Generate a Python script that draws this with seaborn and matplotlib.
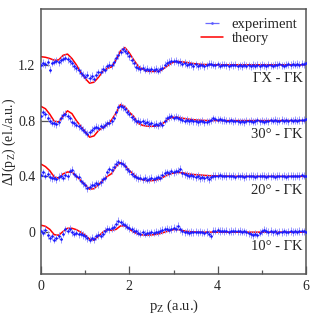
import numpy as np
import pandas as pd
import matplotlib
matplotlib.use("Agg")
import matplotlib.pyplot as plt
from matplotlib.lines import Line2D
from matplotlib.ticker import MultipleLocator
import seaborn as sns

# panel names (bottom to top) and vertical offsets
panels = ["10° - ΓK", "20° - ΓK", "30° - ΓK", "ΓX - ΓK"]
offsets = [0.0, 0.4, 0.8, 1.2]

# theory, step 0.1 a.u. from 0 to 6 (deviation from offset)
theory_10 = [0.050, 0.042, 0.020, -0.018, -0.022, 0.005, 0.028, 0.028, 0.018, 0.000,
             -0.020, -0.050, -0.058, -0.030, 0.000, 0.020, 0.012, 0.020, 0.045, 0.045,
             0.022, 0.000, -0.014, -0.020, -0.022, -0.020, -0.016, -0.010, 0.000, 0.010,
             0.018, 0.019, 0.012, 0.006, 0.003, 0.001, 0, 0, 0, 0,
             0, 0, 0, 0, 0, 0, 0, 0, 0, 0,
             0, 0, 0, 0, 0, 0, 0, 0, 0, 0,
             0]
theory_20 = [0.088, 0.070, 0.040, -0.005, -0.012, 0.018, 0.031, 0.030, 0.002, -0.030,
             -0.058, -0.092, -0.088, -0.060, -0.028, 0.000, 0.020, 0.070, 0.098, 0.080,
             0.042, 0.015, -0.015, -0.024, -0.030, -0.031, -0.027, -0.018, 0.000, 0.015,
             0.024, 0.028, 0.026, 0.020, 0.015, 0.012, 0.010, 0.007, 0.005, 0.004,
             0.003, 0.002, 0.002, 0.001, 0.001, 0, 0, 0, 0, 0,
             0, 0, 0, 0, 0, 0, 0, 0, 0, 0,
             0]
theory_30 = [0.102, 0.085, 0.045, -0.005, -0.010, 0.035, 0.070, 0.050, 0.000, -0.040,
             -0.078, -0.119, -0.110, -0.072, -0.050, -0.030, 0.005, 0.055, 0.115, 0.100,
             0.060, 0.030, -0.020, -0.034, -0.040, -0.041, -0.040, -0.034, -0.010, 0.015,
             0.024, 0.024, 0.017, 0.012, 0.008, 0.005, 0.003, 0.001, 0, 0,
             0, 0, 0, 0, 0, 0, 0, 0, 0, 0,
             0, 0, 0, 0, 0, 0, 0, 0, 0, 0,
             0]
theory_gx = [0.058, 0.054, 0.045, 0.033, 0.035, 0.068, 0.077, 0.045, 0.000, -0.055,
             -0.098, -0.132, -0.125, -0.090, -0.048, -0.025, -0.015, 0.035, 0.100, 0.124,
             0.085, 0.035, -0.010, -0.031, -0.046, -0.048, -0.047, -0.045, -0.022, 0.000,
             0.020, 0.024, 0.021, 0.017, 0.011, 0.007, 0.004, 0.002, 0.001, 0,
             0, 0, 0, 0, 0, 0, 0, 0, 0, 0,
             0, 0, 0, 0, 0, 0, 0, 0, 0, 0,
             0]

# experiment, step 0.05 a.u. from 0 to 6 (deviation from offset)
exp_10 = [0.010, -0.005, 0.015, -0.020, -0.045, -0.030, -0.055, -0.040, -0.025, -0.050,
          -0.010, 0.020, 0.010, 0.025, 0.000, -0.010, -0.005, -0.015, -0.010, -0.020,
          -0.030, -0.045, -0.055, -0.040, -0.050, -0.030, -0.020, -0.025, -0.010, 0.010,
          0.025, 0.020, 0.030, 0.035, 0.060, 0.080, 0.070, 0.060, 0.050, 0.040,
          0.030, 0.020, 0.010, 0.005, -0.005, -0.010, 0.000, -0.012, -0.005, -0.008,
          0.000, -0.005, 0.004, 0.000, 0.010, 0.015, 0.020, 0.025, 0.018, 0.022,
          0.030, 0.025, 0.045, 0.020, 0.005, 0.000, 0.004, -0.003, 0.002, 0.000,
          0.004, -0.002, 0.003, 0.000, -0.004, 0.002, -0.010, -0.025, 0.008, 0.010,
          0.012, 0.008, 0.010, 0.006, 0.010, 0.004, 0.008, 0.006, 0.010, 0.005,
          0.008, 0.004, 0.006, 0.000, -0.008, -0.015, -0.020, -0.012, -0.018, -0.005,
          0.005, 0.018, 0.010, 0.002, 0.008, 0.000, 0.006, -0.004, 0.004, 0.002,
          0.006, 0.000, 0.004, 0.008, 0.002, 0.006, 0.004, 0.008, 0.005, 0.006,
          0.004]
exp_20 = [0.010, 0.030, 0.005, 0.020, -0.005, -0.015, -0.010, -0.020, -0.005, 0.005,
          -0.010, 0.010, 0.000, 0.035, 0.045, 0.020, 0.000, -0.005, -0.030, -0.050,
          -0.065, -0.085, -0.075, -0.060, -0.065, -0.050, -0.055, -0.040, -0.020, -0.010,
          0.030, 0.050, 0.045, 0.070, 0.090, 0.100, 0.095, 0.090, 0.075, 0.050,
          0.035, 0.020, 0.005, -0.005, -0.015, -0.010, -0.020, -0.012, -0.025, -0.018,
          -0.010, -0.022, -0.015, -0.008, -0.010, 0.010, 0.025, 0.030, 0.022, 0.035,
          0.028, 0.035, 0.040, 0.055, 0.025, 0.015, 0.010, 0.004, 0.008, 0.000,
          -0.004, 0.002, -0.012, -0.006, -0.015, -0.008, -0.018, -0.006, 0.004, 0.002,
          0.005, 0.008, 0.000, 0.006, 0.002, 0.006, 0.000, 0.004, -0.002, 0.004,
          0.000, 0.006, -0.004, 0.003, 0.000, 0.005, 0.002, -0.003, 0.004, 0.000,
          0.006, 0.002, -0.002, 0.004, 0.000, 0.005, -0.003, 0.002, 0.006, 0.000,
          0.004, -0.002, 0.003, 0.006, 0.002, 0.000, 0.005, 0.003, 0.008, 0.004,
          0.002]
exp_30 = [0.035, 0.060, 0.045, 0.020, 0.000, -0.015, -0.020, -0.025, -0.010, 0.020,
          0.040, 0.050, 0.030, 0.015, -0.010, -0.020, -0.030, -0.040, -0.050, -0.065,
          -0.080, -0.095, -0.085, -0.065, -0.055, -0.045, -0.050, -0.040, -0.045, -0.030,
          -0.020, -0.015, -0.005, 0.020, 0.060, 0.095, 0.105, 0.095, 0.085, 0.065,
          0.050, 0.025, 0.010, -0.005, 0.000, -0.010, -0.005, -0.015, -0.010, -0.025,
          -0.020, -0.030, -0.025, -0.035, -0.020, -0.030, 0.000, 0.015, 0.025, 0.030,
          0.022, 0.028, 0.020, 0.012, 0.006, 0.000, 0.004, -0.004, 0.002, -0.006,
          -0.004, -0.010, -0.006, -0.002, -0.012, -0.008, -0.004, 0.002, 0.015, 0.010,
          0.006, 0.008, 0.002, 0.004, -0.002, 0.000, 0.003, -0.004, 0.000, -0.006,
          -0.008, -0.004, -0.010, -0.002, -0.006, 0.000, -0.008, -0.004, 0.002, -0.004,
          -0.002, -0.008, 0.000, -0.004, 0.002, -0.002, 0.004, -0.003, 0.000, 0.004,
          -0.002, 0.002, -0.004, 0.003, 0.000, 0.004, -0.002, 0.005, 0.002, 0.006,
          0.008]
exp_gx = [-0.005, 0.012, 0.004, 0.020, -0.035, 0.015, 0.022, 0.030, 0.018, 0.035,
          0.045, 0.052, 0.040, 0.028, 0.010, -0.010, -0.025, -0.040, -0.058, -0.070,
          -0.085, -0.070, -0.095, -0.080, -0.100, -0.070, -0.055, -0.050, -0.030, -0.035,
          -0.010, 0.000, -0.005, 0.020, 0.050, 0.070, 0.095, 0.110, 0.100, 0.085,
          0.060, 0.035, 0.010, -0.015, -0.020, -0.030, -0.022, -0.035, -0.028, -0.040,
          -0.032, -0.036, -0.030, -0.042, -0.030, -0.020, 0.000, 0.015, 0.020, 0.028,
          0.025, 0.030, 0.018, 0.020, 0.008, 0.012, 0.000, 0.005, 0.003, -0.008,
          0.004, -0.010, -0.004, 0.002, -0.012, -0.005, 0.008, 0.006, 0.000, -0.005,
          0.003, -0.006, 0.002, 0.000, -0.004, -0.008, 0.002, -0.005, 0.000, -0.010,
          -0.004, -0.008, 0.002, -0.006, -0.004, -0.010, -0.002, -0.006, 0.002, -0.008,
          0.000, -0.004, -0.010, 0.002, -0.003, -0.006, 0.000, -0.002, 0.004, -0.004,
          -0.006, 0.000, 0.003, -0.002, 0.005, 0.000, 0.006, 0.002, 0.008, 0.004,
          0.010]

theory = [theory_10, theory_20, theory_30, theory_gx]
experiment = [exp_10, exp_20, exp_30, exp_gx]
exp_err = 0.026

sns.set_theme(style="ticks")
plt.rcParams["font.family"] = ["Liberation Serif", "DejaVu Serif"]
plt.rcParams["mathtext.fontset"] = "custom"
plt.rcParams["mathtext.rm"] = "Liberation Serif"
plt.rcParams["mathtext.it"] = "Liberation Serif:italic"

rows = []
for name, off, th in zip(panels, offsets, theory):
    for i, v in enumerate(th):
        rows.append({"panel": name, "pz": round(i * 0.1, 2), "dj": v + off})
df_th = pd.DataFrame(rows)

fig = plt.figure(figsize=(3.14, 3.14), dpi=100)
ax = fig.add_axes([0.1306, 0.1274, 0.8439, 0.8439])

sns.lineplot(data=df_th, x="pz", y="dj", units="panel", estimator=None,
             color="red", lw=1.1, ax=ax, legend=False)

for name, off, ex in zip(panels, offsets, experiment):
    ex = np.array(ex) + off
    px = np.arange(len(ex)) * 0.05
    ax.errorbar(px, ex, yerr=exp_err, fmt="none", ecolor="#8c8cff",
                elinewidth=0.7, alpha=0.9, zorder=3)
    ax.errorbar(px, ex, xerr=0.025, fmt="o", ms=0.9, color="#1a1aff",
                ecolor="#2a2aff", elinewidth=0.6, zorder=4)
    ax.text(5.92, off - 0.1, name, ha="right", va="center", fontsize=10.5)

ax.set_xlim(0, 6)
ax.set_ylim(-0.3, 1.6)
ax.set_xticks([0, 2, 4, 6])
ax.set_xticklabels(["0", "2", "4", "6"])
ax.xaxis.set_minor_locator(MultipleLocator(1))
ax.set_yticks([0, 0.4, 0.8, 1.2])
ax.set_yticklabels(["0", "0.4", "0.8", "1.2"])
ax.tick_params(which="both", direction="in", color="#555555", labelsize=10,
               top=False, right=False)
ax.tick_params(which="major", length=6, width=0.9, pad=4)
ax.tick_params(which="minor", length=3, width=0.9)
for s in ax.spines.values():
    s.set_color("#555555")
    s.set_linewidth(1.1)

ax.set_xlabel("p$_{\\mathrm{Z}}$ (a.u.)", fontsize=10.5)
ax.set_ylabel("ΔJ(p$_{\\mathrm{Z}}$) (el./a.u.)", fontsize=10)
ax.xaxis.set_label_coords(0.5, -0.088)
ax.yaxis.set_label_coords(-0.085, 0.5)

h_exp = ax.errorbar([], [], xerr=[], fmt="o", ms=0.9, color="#5a5aff",
                    ecolor="#6a6aff", elinewidth=0.9, capsize=3.5)
h_th = Line2D([], [], color="red", lw=1.1)
ax.legend([h_exp, h_th], ["experiment", "theory"], loc="upper right",
          bbox_to_anchor=(1.0, 1.0), frameon=False, fontsize=10.5,
          handlelength=1.5, handletextpad=0.6, labelspacing=0.05,
          borderaxespad=0.2)

fig.savefig("out.png", dpi=100)
